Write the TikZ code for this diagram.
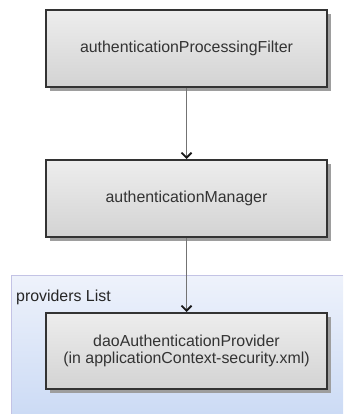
\documentclass[tikz,border=0pt]{standalone}
\usepackage{fontspec}
\setmainfont{Liberation Sans}
\usetikzlibrary{arrows.meta}
\definecolor{contop}{HTML}{EEF2FB}
\definecolor{conbot}{HTML}{CCDBF5}
\definecolor{boxtop}{HTML}{EDEDED}
\definecolor{boxbot}{HTML}{D3D3D3}
\definecolor{shadowc}{HTML}{9E9E9E}
\begin{document}
\begin{tikzpicture}[x=1pt,y=-1pt,
  boxstyle/.style={draw=black!80, line width=2pt, top color=boxtop, bottom color=boxbot,
    minimum width=281pt, minimum height=77pt, anchor=north west, inner sep=0pt, align=center,
    font=\fontsize{15.9}{17.5}\selectfont, text=black!80},
  shadowbox/.style={fill=shadowc, draw=none, minimum width=281pt, minimum height=77pt,
    anchor=north west, inner sep=0pt},
  conn/.style={draw=black!55, line width=1.5pt, -{Straight Barb[length=5pt,width=10pt,line width=1.8pt,color=black!90]}}]
\useasboundingbox (0,0) rectangle (343,414);
\fill[top color=contop, bottom color=conbot, draw=none] (11,275) rectangle (343,414);
\draw[white!85!blue!90!black, line width=0.6pt] (11,414) -- (11,275) -- (343,275);
\node[anchor=base west, font=\fontsize{15.9}{17.5}\selectfont, text=black!85, inner sep=0pt] (lbl) at (16,301) {providers List};
\node[shadowbox] (fs) at (50,14) {};
\node[shadowbox] (ms) at (50,164) {};
\node[shadowbox, minimum height=76pt] (ps) at (50,317) {};
\node[boxstyle] (f) at (45,9) {authenticationProcessingFilter};
\node[boxstyle] (m) at (45,159) {authenticationManager};
\node[boxstyle, minimum height=76pt] (p) at (45,312) {daoAuthenticationProvider\\(in applicationContext-security.xml)};
\draw[conn] (f.south) -- (m.north);
\draw[conn] (m.south) -- (p.north);
\end{tikzpicture}
\end{document}
